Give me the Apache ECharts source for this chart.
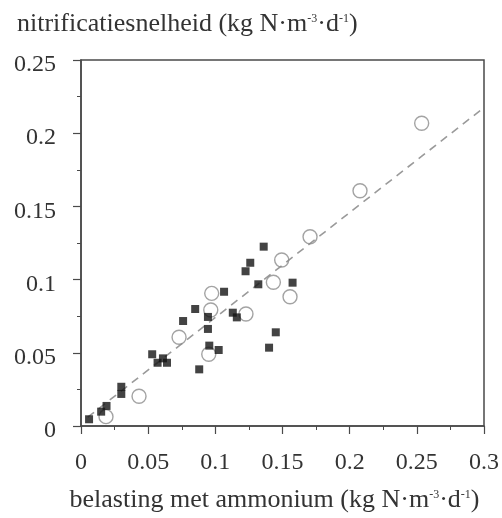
<!DOCTYPE html>
<html>
<head>
<meta charset="utf-8">
<script src="https://cdn.jsdelivr.net/npm/echarts@6/dist/echarts.min.js"></script>
<style>
  html, body { margin: 0; padding: 0; background: #fff; }
  #chart { width: 502px; height: 518px; }
</style>
</head>
<body>
<div id="chart"></div>
<script>
// Ammonium loading vs nitrification rate (kg N·m-3·d-1)
const squareX = [0.006, 0.015, 0.019, 0.030, 0.030, 0.053, 0.057, 0.061, 0.064, 0.076, 0.085, 0.088, 0.0945, 0.0945, 0.0955, 0.1025, 0.1065, 0.113, 0.116, 0.1225, 0.126, 0.132, 0.136, 0.140, 0.145, 0.1575];
const squareY = [0.0046, 0.0098, 0.0137, 0.0268, 0.0219, 0.049, 0.0432, 0.0462, 0.0432, 0.0717, 0.0799, 0.0387, 0.0745, 0.0663, 0.0549, 0.0519, 0.0917, 0.0774, 0.0742, 0.1057, 0.1115, 0.0968, 0.1225, 0.0535, 0.064, 0.0979];

const circleX = [0.0186, 0.0432, 0.073, 0.0973, 0.0966, 0.0951, 0.1228, 0.1432, 0.1494, 0.1556, 0.1705, 0.2077, 0.2536];
const circleY = [0.0064, 0.0203, 0.0606, 0.0906, 0.0792, 0.049, 0.0765, 0.0982, 0.1134, 0.0883, 0.1293, 0.1607, 0.2068];

// regression line end points
const fitX = [0.005, 0.3];
const fitY = [0.006, 0.2175];

const xTicks = [0, 0.05, 0.1, 0.15, 0.2, 0.25, 0.3];
const yTicks = [0, 0.05, 0.1, 0.15, 0.2, 0.25];

const zip = (xs, ys) => xs.map((x, i) => [x, ys[i]]);
const fmt = v => (v === 0 ? '0' : String(+v.toFixed(2)));

const serif = '"Liberation Serif", "DejaVu Serif", serif';
const ink = '#333';
const axisInk = '#4a4a4a';

// unit text with raised exponents
const unitRich = {
  a: { fontFamily: serif, fontSize: 26, fontWeight: 'normal', color: ink, lineHeight: 30, verticalAlign: 'bottom' },
  s: { fontFamily: serif, fontSize: 12, fontWeight: 'normal', color: ink, lineHeight: 30, verticalAlign: 'top', padding: [6, 0, 0, 0] }
};

const chart = echarts.init(document.getElementById('chart'), null, { renderer: 'canvas' });

chart.setOption({
  animation: false,
  backgroundColor: '#fff',
  title: {
    text: '{a|nitrificatiesnelheid (kg N·m}{s|-3}{a|·d}{s|-1}{a|)}',
    left: 12,
    top: 2,
    textStyle: { fontWeight: 'normal', rich: unitRich }
  },
  grid: {
    left: 81, right: 18, top: 60, bottom: 92,
    show: true, borderColor: axisInk, borderWidth: 1.5, backgroundColor: 'transparent'
  },
  xAxis: {
    type: 'value',
    min: 0, max: 0.3, interval: 0.05,
    name: '{a|belasting met ammonium (kg N·m}{s|-3}{a|·d}{s|-1}{a|)}',
    nameLocation: 'middle',
    nameGap: 57,
    nameTextStyle: { rich: unitRich, padding: [0, 16, 0, 0] },
    axisLine: { show: true, onZero: false, lineStyle: { color: axisInk, width: 1.5 } },
    axisTick: { show: true, inside: false, length: 8, lineStyle: { color: axisInk, width: 1.2 } },
    minorTick: { show: true, splitNumber: 2, length: 4, lineStyle: { color: axisInk, width: 1 } },
    splitLine: { show: false },
    axisLabel: {
      margin: 25,
      fontFamily: serif, fontSize: 24, color: ink,
      formatter: v => (xTicks.some(t => Math.abs(t - v) < 1e-9) ? fmt(v) : '')
    }
  },
  yAxis: {
    type: 'value',
    min: 0, max: 0.25, interval: 0.05,
    axisLine: { show: true, onZero: false, lineStyle: { color: axisInk, width: 1.5 } },
    axisTick: { show: true, inside: false, length: 8, lineStyle: { color: axisInk, width: 1.2 } },
    minorTick: { show: true, splitNumber: 2, length: 4, lineStyle: { color: axisInk, width: 1 } },
    splitLine: { show: false },
    axisLabel: {
      margin: 25,
      formatter: v => (yTicks.some(t => Math.abs(t - v) < 1e-9) ? '{v|' + fmt(v) + '}' : ''),
      rich: {
        v: { fontFamily: serif, fontSize: 24, color: ink, padding: [10, 0, 0, 0] }
      }
    }
  },
  series: [
    {
      name: 'fit',
      type: 'line',
      data: zip(fitX, fitY),
      showSymbol: false,
      symbol: 'none',
      z: 1,
      lineStyle: { color: '#9a9a9a', width: 1.6, type: [8, 6] }
    },
    {
      name: 'open',
      type: 'scatter',
      data: zip(circleX, circleY),
      symbol: 'circle',
      symbolSize: 14,
      z: 2,
      itemStyle: { color: 'rgba(255,255,255,0)', borderColor: '#8c8c8c', borderWidth: 1.4 }
    },
    {
      name: 'filled',
      type: 'scatter',
      data: zip(squareX, squareY),
      symbol: 'rect',
      symbolSize: 8,
      z: 3,
      itemStyle: { color: '#141414' }
    }
  ]
});
</script>
</body>
</html>
